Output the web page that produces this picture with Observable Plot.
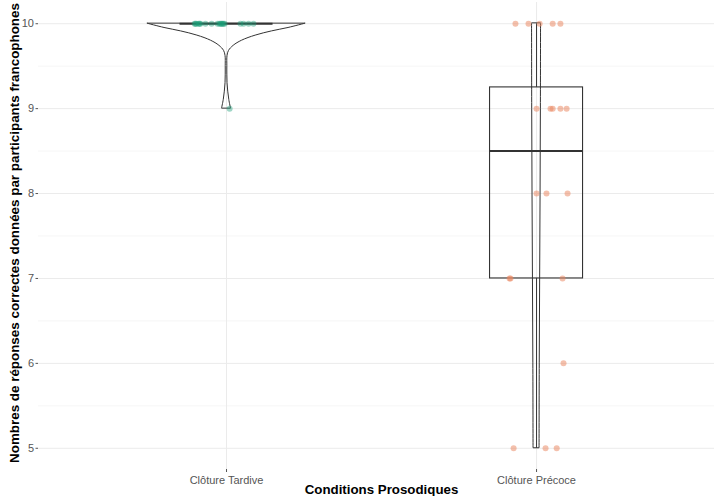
<!DOCTYPE html>
<html>
<head>
<meta charset="utf-8">
<script src="https://cdn.jsdelivr.net/npm/d3@7"></script>
<script src="https://cdn.jsdelivr.net/npm/@observablehq/plot@0.6"></script>
<style>
  html, body { margin: 0; padding: 0; background: #fff; }
  #chart svg { display: block; }
</style>
</head>
<body>
<div id="chart"></div>
<script>
// ---- Data ----
const categories = ["Clôture Tardive", "Clôture Précoce"];
const xTitle = "Conditions Prosodiques";
const yTitle = "Nombres de réponses correctes données par participants francophones";

const yMajorTicks = [5, 6, 7, 8, 9, 10];
const yMinorTicks = [5.5, 6.5, 7.5, 8.5, 9.5];

// scores per participant
const tardiveScores = [10,10,10,10,10,10,10,10,10,10,10,10,10,10,10,10,10,10,10,9];
const tardiveJitter = [-0.103,-0.1,-0.097,-0.09,-0.087,-0.084,-0.068,-0.048,-0.029,-0.023,-0.019,-0.016,-0.013,-0.01,-0.006,0.045,0.055,0.071,0.087,0.01];

const precoceScores = [10,10,10,10,10, 9,9,9,9,9, 8,8,8, 7,7,7, 6, 5,5,5];
const precoceJitter = [-0.068,-0.026,0.01,0.052,0.077, 0,0.045,0.052,0.077,0.097, 0,0.032,0.1, -0.087,-0.084,0.084, 0.087, -0.074,0.029,0.065];

// violin half-widths (in category units) along the score axis
const tardiveViolinLevels = [10, 9.95, 9.91, 9.86, 9.8, 9.74, 9.68, 9.62, 9.5, 9.4, 9.3, 9.2, 9.1, 9.0];
const tardiveViolinWidth  = [0.254, 0.2, 0.147, 0.094, 0.05, 0.023, 0.008, 0.0032, 0.0026, 0.0026, 0.0032, 0.0055, 0.009, 0.0145];
const precoceViolinLevels = [10, 9, 8, 7, 6, 5];
const precoceViolinWidth  = [0.0145, 0.014, 0.013, 0.0116, 0.0103, 0.0097];

const groupColors = ["#1b9e77", "#e9875f"];

// ---- Derived tables ----
const groups = [
  {cat: 1, scores: tardiveScores, jitter: tardiveJitter, levels: tardiveViolinLevels, widths: tardiveViolinWidth, color: groupColors[0], op: 0.42},
  {cat: 2, scores: precoceScores, jitter: precoceJitter, levels: precoceViolinLevels, widths: precoceViolinWidth, color: groupColors[1], op: 0.52}
];

const boxW = 0.15;
const stroke = "#333";
const marks = [];

// grid
marks.push(Plot.ruleY(yMinorTicks, {stroke: "#f0f0f0", strokeWidth: 0.6}));
marks.push(Plot.ruleY(yMajorTicks, {stroke: "#ebebeb", strokeWidth: 1}));
marks.push(Plot.ruleX([1, 2], {stroke: "#ebebeb", strokeWidth: 1}));

for (const g of groups) {
  const vdata = g.levels.map((y, i) => ({y, w: g.widths[i]}));
  marks.push(Plot.areaX(vdata, {
    y: "y", x1: d => g.cat - d.w, x2: d => g.cat + d.w,
    fill: "none", stroke, strokeWidth: 1, curve: "catmull-rom"
  }));
  const s = g.scores.slice().sort(d3.ascending);
  const q1 = d3.quantile(s, 0.25), med = d3.quantile(s, 0.5), q3 = d3.quantile(s, 0.75);
  const iqr = q3 - q1;
  const lo = d3.min(s.filter(v => v >= q1 - 1.5 * iqr));
  const hi = d3.max(s.filter(v => v <= q3 + 1.5 * iqr));
  if (q3 > q1) {
    marks.push(Plot.rect([0], {x1: g.cat - boxW, x2: g.cat + boxW, y1: q1, y2: q3, fill: "none", stroke, strokeWidth: 1.1}));
  }
  if (lo < q1) marks.push(Plot.ruleX([0], {x: g.cat, y1: lo, y2: q1, stroke, strokeWidth: 1}));
  if (hi > q3) marks.push(Plot.ruleX([0], {x: g.cat, y1: q3, y2: hi, stroke, strokeWidth: 1}));
  marks.push(Plot.ruleY([med], {x1: g.cat - boxW, x2: g.cat + boxW, stroke, strokeWidth: 2}));
}

for (const g of groups) {
  const pts = g.scores.map((v, i) => ({x: g.cat + g.jitter[i], y: v}));
  marks.push(Plot.dot(pts, {x: "x", y: "y", r: 3, fill: g.color, fillOpacity: g.op, stroke: "none"}));
}

// axis titles
marks.push(Plot.text([yTitle], {frameAnchor: "left", rotate: -90, dx: -24, dy: -3, text: d => d,
  fontWeight: "bold", fontSize: 13.4, fill: "#000", textAnchor: "middle", lineAnchor: "middle"}));
marks.push(Plot.text([xTitle], {frameAnchor: "bottom", dx: 5, dy: 20, text: d => d,
  fontWeight: "bold", fontSize: 13.3, fill: "#000", textAnchor: "middle", lineAnchor: "middle"}));

const plot = Plot.plot({
  width: 714,
  height: 496,
  marginTop: 2,
  marginBottom: 27,
  marginLeft: 38,
  marginRight: 0,
  style: {fontFamily: "'Liberation Sans', Arial, sans-serif", fontSize: "11px", color: "#555", background: "#fff", overflow: "visible"},
  x: {type: "linear", domain: [0.3935, 2.574], ticks: [1, 2], tickFormat: d => categories[d - 1], tickSize: 3, tickPadding: 4, label: null},
  y: {domain: [4.75, 10.25], ticks: yMajorTicks, tickFormat: d => String(d), tickSize: 2.5, tickPadding: 2, label: null},
  marks
});
document.getElementById("chart").appendChild(plot);
</script>
</body>
</html>
